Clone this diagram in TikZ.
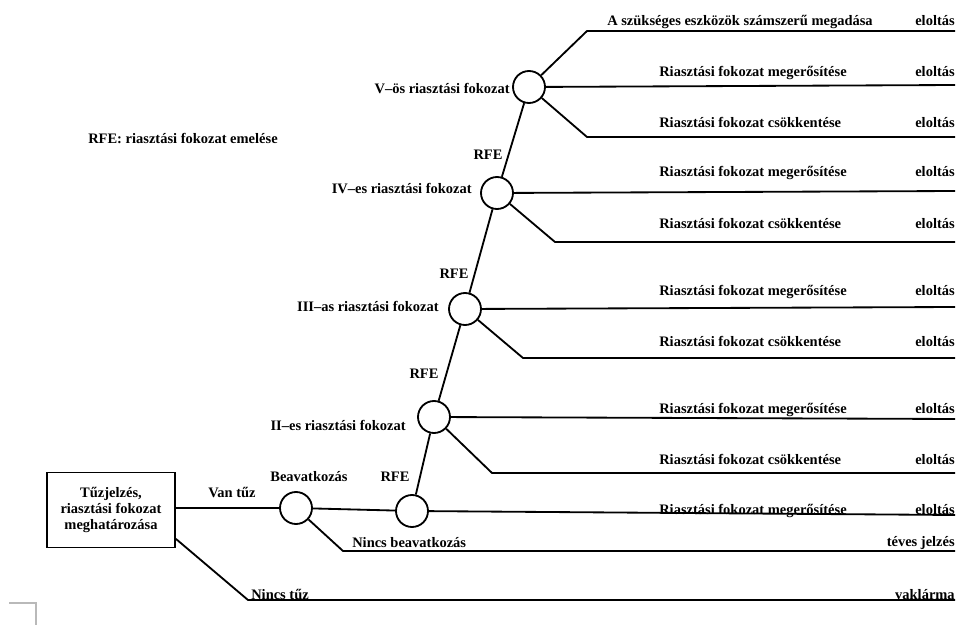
\documentclass[tikz,border=0pt]{standalone}
\usepackage{fontspec}
\setmainfont{Liberation Serif}

\begin{document}
\begin{tikzpicture}[x=0.25mm,y=-0.25mm,
  font=\fontsize{10.3}{11.7}\selectfont\bfseries,
  br/.style={line width=1.3pt,line join=round},
  dc/.style={circle,draw,line width=1.3pt,fill=white,minimum size=8mm,inner sep=0pt},
  startbox/.style={draw,line width=1.3pt,minimum width=32mm,minimum height=18.75mm,
    align=center,inner sep=1pt},
  lbl/.style={inner sep=0pt},
]
\useasboundingbox (0,0) rectangle (960,625);

%% ---- start box and decision circles ----
\node[startbox] (box) at (111,510) {Tűzjelzés,\\riasztási fokozat\\meghatározása};
\node[dc] (b1) at (296,508) {};
\node[dc] (b2) at (412,511) {};
\node[dc] (c2) at (434,417) {};
\node[dc] (c3) at (465,309) {};
\node[dc] (c4) at (497,193) {};
\node[dc] (c5) at (529,87) {};

%% ---- bends and right ends ----
\coordinate (k5a) at (587,31);
\coordinate (k5c) at (587,137);
\coordinate (k4b) at (555,242);
\coordinate (k3b) at (523,358);
\coordinate (k2b) at (492,473);
\coordinate (kbn) at (343,551);
\coordinate (ktn) at (248,600);
\foreach \nm/\y in {e5a/31,e5b/85,e5c/137,e4a/191,e4b/242,e3a/307,e3b/358,
                    e2a/419,e2b/473,e1/515,ebn/551,etn/600}
  \coordinate (\nm) at (955,\y);

%% ---- branches ----
\draw[br] (box.east |- b1) -- (b1) -- (b2);
\draw[br] (b2) -- (e1);
\draw[br] (b1) -- (kbn) -- (ebn);
\draw[br] (box.-24) -- (ktn) -- (etn);
\draw[br] (b2) -- (c2) -- (c3) -- (c4) -- (c5);
\draw[br] (c2) -- (e2a);
\draw[br] (c2) -- (k2b) -- (e2b);
\draw[br] (c3) -- (e3a);
\draw[br] (c3) -- (k3b) -- (e3b);
\draw[br] (c4) -- (e4a);
\draw[br] (c4) -- (k4b) -- (e4b);
\draw[br] (c5) -- (k5a) -- (e5a);
\draw[br] (c5) -- (e5b);
\draw[br] (c5) -- (k5c) -- (e5c);

%% ---- left labels (placed on their baselines) ----
\node[lbl,anchor=base west] (key) at (88,144) {RFE: riasztási fokozat emelése};
\node[lbl,anchor=base] (van) at (232,497) {Van tűz};
\node[lbl,anchor=base] (beav) at (309,481) {Beavatkozás};
\node[lbl,anchor=base west] (nbeav) at (352,547) {Nincs beavatkozás};
\node[lbl,anchor=base west] (ntuz) at (251,599) {Nincs tűz};
\node[lbl,anchor=base east] (teves) at (955,546) {téves jelzés};
\node[lbl,anchor=base east] (vak) at (955,599) {vaklárma};

\node[lbl,anchor=base east] (l5) at (510,94) {V–ös riasztási fokozat};
\node[lbl,anchor=base east] (l4) at (472,194) {IV–es riasztási fokozat};
\node[lbl,anchor=base east] (l3) at (439,312) {III–as riasztási fokozat};
\node[lbl,anchor=base east] (l2) at (406,431) {II–es riasztási fokozat};

\foreach \nm/\x/\y in {r2/395/481,r3/424/379,r4/454/279,r5/488/160}
  \node[lbl,anchor=base] (\nm) at (\x,\y) {RFE};

%% ---- right labels ----
\node[lbl,anchor=base west] (t5a) at (607,26) {A szükséges eszközök számszerű megadása};
\node[lbl,anchor=base east] (t5a-e) at (955,26) {eloltás};
\foreach \nm/\y/\txt in {t5b/77/megerősítése,t5c/128/csökkentése,
                         t4a/177/megerősítése,t4b/229/csökkentése,
                         t3a/296/megerősítése,t3b/347/csökkentése,
                         t2a/413/megerősítése,t2b/464/csökkentése,
                         t1/514/megerősítése}{
  \node[lbl,anchor=base west] (\nm) at (659,\y) {Riasztási fokozat \txt};
  \node[lbl,anchor=base east] (\nm-e) at (955,\y) {eloltás};
}

%% page corner mark
\draw[gray!55,line width=0.8pt] (9,603) -- (36,603) -- (36,625);

\end{tikzpicture}
\end{document}
